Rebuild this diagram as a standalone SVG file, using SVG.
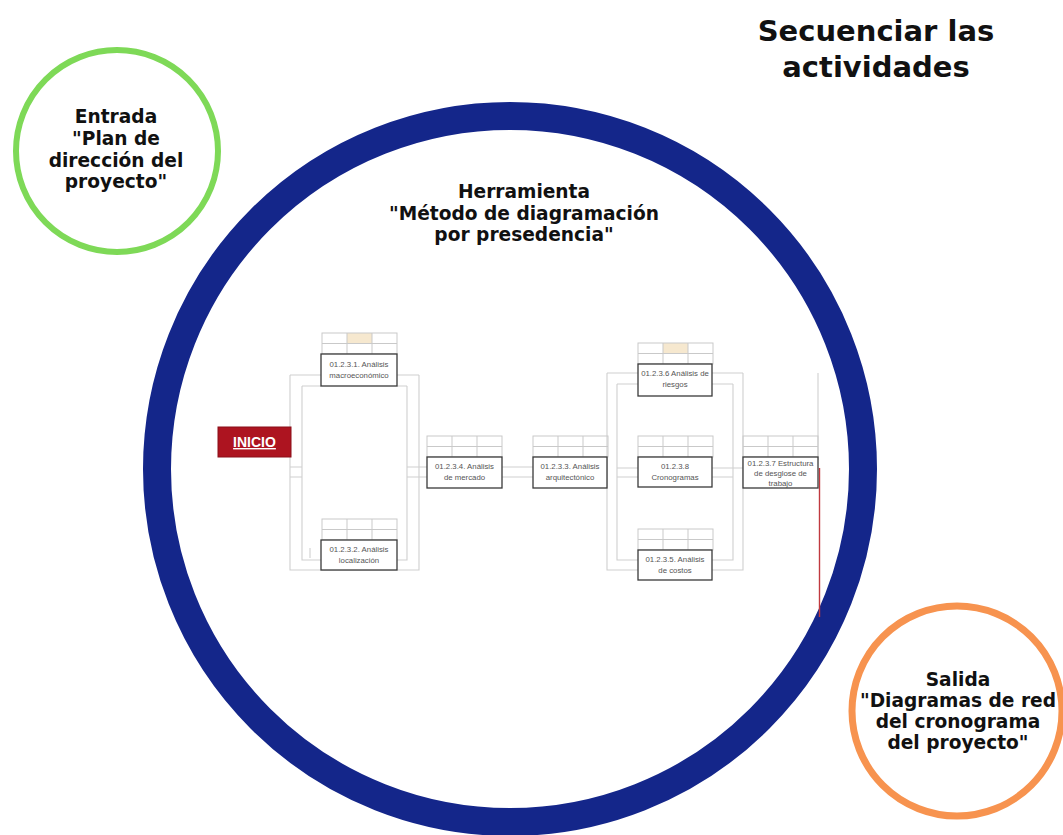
<svg xmlns="http://www.w3.org/2000/svg" width="1063" height="835" viewBox="0 0 1063 835">
  <style>
    .title { font-family: "DejaVu Sans", "Liberation Sans", sans-serif; font-weight: 700; fill: #111; text-anchor: middle; }
    .lbl { font-family: "DejaVu Sans", "Liberation Sans", sans-serif; font-weight: 700; fill: #111; text-anchor: middle; font-size: 18.6px; }
    .grid { fill: none; stroke: #c9c9c9; stroke-width: 1; }
    .wire { fill: none; stroke: #cfcfcf; stroke-width: 1.1; }
    .task { fill: #fff; stroke: #3a3a3a; stroke-width: 1.3; }
    .tt { font-family: "Liberation Sans", Arial, sans-serif; font-size: 7.8px; fill: #555; text-anchor: middle; }
    .tint { fill: #f6e8cf; }
  </style>
  <defs>
    <!-- 3x2 header grid placed above each task box (75 x 21) -->
    <g id="hdr">
      <rect class="grid" x="0" y="0" width="75" height="21"/>
      <line class="grid" x1="0" y1="10.5" x2="75" y2="10.5"/>
      <line class="grid" x1="25" y1="0" x2="25" y2="21"/>
      <line class="grid" x1="50" y1="0" x2="50" y2="21"/>
    </g>
  </defs>

  <rect width="1063" height="835" fill="#fff"/>

  <!-- title -->
  <g id="title">
    <text class="title" x="876" y="41" font-size="29">Secuenciar las</text>
    <text class="title" x="876" y="77" font-size="29">actividades</text>
  </g>

  <!-- input circle -->
  <g id="entrada">
    <circle cx="117" cy="151" r="101" fill="none" stroke="#7ed957" stroke-width="6"/>
    <text class="lbl" x="116" y="123" font-size="19.2">Entrada</text>
    <text class="lbl" x="116" y="145" font-size="19.2">"Plan de</text>
    <text class="lbl" x="116" y="167" font-size="19.2">dirección del</text>
    <text class="lbl" x="116" y="188" font-size="19.2">proyecto"</text>
  </g>

  <!-- tool ring -->
  <g id="herramienta">
    <circle cx="510" cy="469" r="353" fill="none" stroke="#14268a" stroke-width="28"/>
    <text class="lbl" x="524" y="198">Herramienta</text>
    <text class="lbl" x="524" y="220">"Método de diagramación</text>
    <text class="lbl" x="524" y="241">por presedencia"</text>
  </g>

  <!-- output circle -->
  <g id="salida">
    <circle cx="957" cy="711" r="105" fill="none" stroke="#f7934f" stroke-width="7"/>
    <text class="lbl" x="958" y="686">Salida</text>
    <text class="lbl" x="958" y="707">"Diagramas de red</text>
    <text class="lbl" x="958" y="728">del cronograma</text>
    <text class="lbl" x="958" y="749">del proyecto"</text>
  </g>

  <!-- precedence network connectors -->
  <g id="connectors">
    <!-- left branch frame -->
    <path class="wire" d="M290 375 V570 H419 V375 M290 375 H321 M397 375 H419"/>
    <path class="wire" d="M302 386 V560 H321 M397 560 H407 V386 M302 386 H321 M397 386 H407"/>
    <path class="wire" d="M290 467 H302 M290 477 H302 M407 467 H427 M407 477 H427"/>
    <line class="wire" x1="310" y1="548" x2="310" y2="558"/>
    <!-- chain between middle tasks -->
    <path class="wire" d="M502 467 H533 M502 477 H533"/>
    <!-- right branch frame -->
    <path class="wire" d="M607 373 V570 H743 V373 M607 373 H638 M712 373 H743"/>
    <path class="wire" d="M617 384 V560 H638 M712 560 H733 V384 M617 384 H638 M712 384 H733"/>
    <path class="wire" d="M617 468 H638 M712 468 H743 M617 477 H638 M712 477 H733"/>
    <line class="wire" x1="818" y1="373" x2="818" y2="460"/>
    <line x1="819.5" y1="468" x2="819.5" y2="617" stroke="#c0393f" stroke-width="1.4"/>
  </g>

  <!-- start node -->
  <g id="inicio">
    <rect x="218" y="427" width="73" height="30" fill="#ad1420"/>
    <rect x="218" y="427" width="73" height="30" fill="none" stroke="#8a0f18" stroke-width="1"/>
    <text x="254.5" y="447" text-anchor="middle" font-family="'Liberation Sans', Arial, sans-serif" font-weight="700" font-size="14" fill="#fff" text-decoration="underline">INICIO</text>
  </g>

  <g id="t-2-3-1">
    <rect class="tint" x="347" y="333" width="25" height="10.5"/>
    <use href="#hdr" x="322" y="333"/>
    <rect class="task" x="321" y="354" width="76" height="32"/>
    <text class="tt" x="359" y="367">01.2.3.1. Análisis</text>
    <text class="tt" x="359" y="378">macroeconómico</text>
  </g>

  <g id="t-2-3-2">
    <use href="#hdr" x="322" y="519"/>
    <rect class="task" x="321" y="540" width="76" height="30"/>
    <text class="tt" x="359" y="552">01.2.3.2. Análisis</text>
    <text class="tt" x="359" y="563">localización</text>
  </g>

  <g id="t-2-3-4">
    <use href="#hdr" x="427" y="436"/>
    <rect class="task" x="427" y="457" width="75" height="31"/>
    <text class="tt" x="464.5" y="469">01.2.3.4. Análisis</text>
    <text class="tt" x="464.5" y="480">de mercado</text>
  </g>

  <g id="t-2-3-3">
    <use href="#hdr" x="533" y="436"/>
    <rect class="task" x="533" y="457" width="74" height="31"/>
    <text class="tt" x="570" y="469">01.2.3.3. Análisis</text>
    <text class="tt" x="570" y="480">arquitectónico</text>
  </g>

  <g id="t-2-3-6">
    <rect class="tint" x="663" y="343" width="25" height="10.5"/>
    <use href="#hdr" x="638" y="343"/>
    <rect class="task" x="638" y="364" width="74" height="32"/>
    <text class="tt" x="675" y="376">01.2.3.6 Análisis de</text>
    <text class="tt" x="675" y="387">riesgos</text>
  </g>

  <g id="t-2-3-8">
    <use href="#hdr" x="638" y="436"/>
    <rect class="task" x="638" y="457" width="74" height="30"/>
    <text class="tt" x="675" y="469">01.2.3.8</text>
    <text class="tt" x="675" y="480">Cronogramas</text>
  </g>

  <g id="t-2-3-5">
    <use href="#hdr" x="638" y="529"/>
    <rect class="task" x="638" y="550" width="74" height="30"/>
    <text class="tt" x="675" y="562">01.2.3.5. Análisis</text>
    <text class="tt" x="675" y="573">de costos</text>
  </g>

  <g id="t-2-3-7">
    <use href="#hdr" x="743" y="436"/>
    <rect class="task" x="743" y="457" width="75" height="31"/>
    <text class="tt" x="780.5" y="466">01.2.3.7 Estructura</text>
    <text class="tt" x="780.5" y="476">de desglose de</text>
    <text class="tt" x="780.5" y="486">trabajo</text>
  </g>
</svg>
